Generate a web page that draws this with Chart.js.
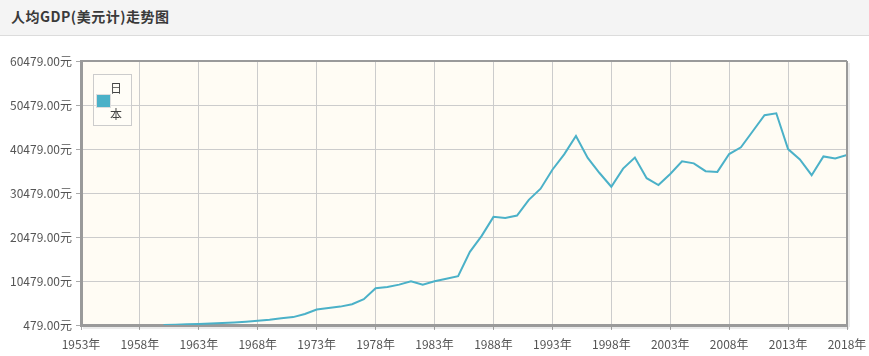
<!DOCTYPE html>
<html><head><meta charset="utf-8">
<script src="https://cdn.jsdelivr.net/npm/chart.js@4"></script>
<style>
html,body{margin:0;padding:0;background:#fff;width:869px;height:356px;overflow:hidden;font-family:"Noto Sans CJK SC","Noto Sans",sans-serif;}
#hdr{position:absolute;left:0;top:0;width:869px;height:36px;background:#f4f4f4;border-bottom:1px solid #dcdcdc;box-sizing:border-box;}
#hdr span{position:absolute;left:11px;top:6px;font-size:14px;font-weight:bold;color:#3a3a3a;letter-spacing:0.5px;}
#wrap{position:absolute;left:0;top:36px;width:869px;height:320px;}
#legend{position:absolute;left:93px;top:74px;width:39px;height:52px;border:1px solid #ccc;box-sizing:border-box;background:rgba(255,255,255,0.3);}
#legend .sw{position:absolute;left:2px;top:19px;width:13px;height:12px;background:#4bb1c8;border:1px solid #ddd;box-sizing:content-box;}
#legend .tx{position:absolute;left:15px;top:0px;width:14px;font-size:12px;line-height:26px;color:#444;text-align:center;}
</style></head>
<body>
<div id="hdr"><span>人均GDP(美元计)走势图</span></div>
<div id="wrap"><canvas id="c" width="869" height="320"></canvas></div>
<div id="legend"><div class="sw"></div><div class="tx" id="legtx"></div></div>
<script>
const seriesName = "日本";
const years = [1960,1961,1962,1963,1964,1965,1966,1967,1968,1969,1970,1971,1972,1973,1974,1975,1976,1977,1978,1979,1980,1981,1982,1983,1984,1985,1986,1987,1988,1989,1990,1991,1992,1993,1994,1995,1996,1997,1998,1999,2000,2001,2002,2003,2004,2005,2006,2007,2008,2009,2010,2011,2012,2013,2014,2015,2016,2017,2018];
const gdpPerCapita = [479,564,633,718,835,919,1058,1228,1450,1669,2037,2272,2967,3997,4353,4659,5197,6335,8821,9105,9659,10434,9617,10425,10984,11585,17112,20745,25052,24813,25359,28925,31465,35766,39269,43429,38437,35022,31903,36027,38532,33846,32289,34808,37689,37218,35434,35275,39339,40855,44508,48168,48603,40454,38109,34524,38794,38332,39116];
const xTicks = [1953,1958,1963,1968,1973,1978,1983,1988,1993,1998,2003,2008,2013,2018];
const yTicks = [479,10479,20479,30479,40479,50479,60479];

document.getElementById('legtx').textContent = seriesName;

const bgPlugin = {
  id:'bg',
  beforeDraw(chart){
    const {ctx, chartArea:a} = chart;
    ctx.save();
    ctx.fillStyle = '#fffcf4';
    ctx.fillRect(a.left, a.top, a.right-a.left, a.bottom-a.top);
    ctx.restore();
  },
  afterDatasetsDraw(chart){
    const {ctx, chartArea:a} = chart;
    ctx.save();
    ctx.strokeStyle = '#9a9a9a';
    ctx.lineWidth = 2;
    ctx.beginPath();
    ctx.moveTo(a.left, a.top); ctx.lineTo(a.right, a.top);
    ctx.moveTo(a.right, a.top); ctx.lineTo(a.right, a.bottom);
    ctx.stroke();
    ctx.strokeStyle = 'rgba(0,0,0,0.08)';
    ctx.lineWidth = 2;
    ctx.beginPath();
    ctx.moveTo(a.right+2, a.top+2); ctx.lineTo(a.right+2, a.bottom+2);
    ctx.moveTo(a.left+2, a.bottom+3); ctx.lineTo(a.right+2, a.bottom+3);
    ctx.stroke();
    ctx.restore();
  }
};

const font = {family:'"Noto Sans CJK SC","Noto Sans",sans-serif', size:12};

new Chart(document.getElementById('c'), {
  type:'line',
  data:{datasets:[{
    label: seriesName,
    data: years.map((y,i)=>({x:y, y:gdpPerCapita[i]})),
    borderColor:'#4bb1c8',
    backgroundColor:'#4bb1c8',
    borderWidth:2,
    pointRadius:0,
    tension:0,
    fill:false
  }]},
  options:{
    responsive:false,
    animation:false,
    layout:{padding:{left:0, top:25, right:22, bottom:0}},
    plugins:{legend:{display:false}, tooltip:{enabled:false}},
    scales:{
      x:{
        type:'linear', min:1953, max:2018,
        afterBuildTicks(s){ s.ticks = xTicks.map(v=>({value:v})); },
        afterFit(s){ s.height = 31; s.paddingLeft = 0; s.paddingRight = 0; },
        ticks:{callback:v=>v+'年', color:'#555', font, padding:7, maxRotation:0, autoSkip:false},
        grid:{color:'#cccccc', lineWidth:1, tickLength:5, tickColor:'#aaaaaa'},
        border:{color:'#9a9a9a', width:3}
      },
      y:{
        type:'linear', min:479, max:60479,
        afterBuildTicks(s){ s.ticks = yTicks.map(v=>({value:v})); },
        afterFit(s){ s.width = 81; s.paddingTop = 0; s.paddingBottom = 0; },
        ticks:{callback:v=>Number(v).toFixed(2)+'元', color:'#555', font, padding:4, autoSkip:false},
        grid:{color:'#cccccc', lineWidth:1, tickLength:5, tickColor:'#aaaaaa'},
        border:{color:'#9a9a9a', width:3}
      }
    }
  },
  plugins:[bgPlugin]
});
</script>
</body></html>
